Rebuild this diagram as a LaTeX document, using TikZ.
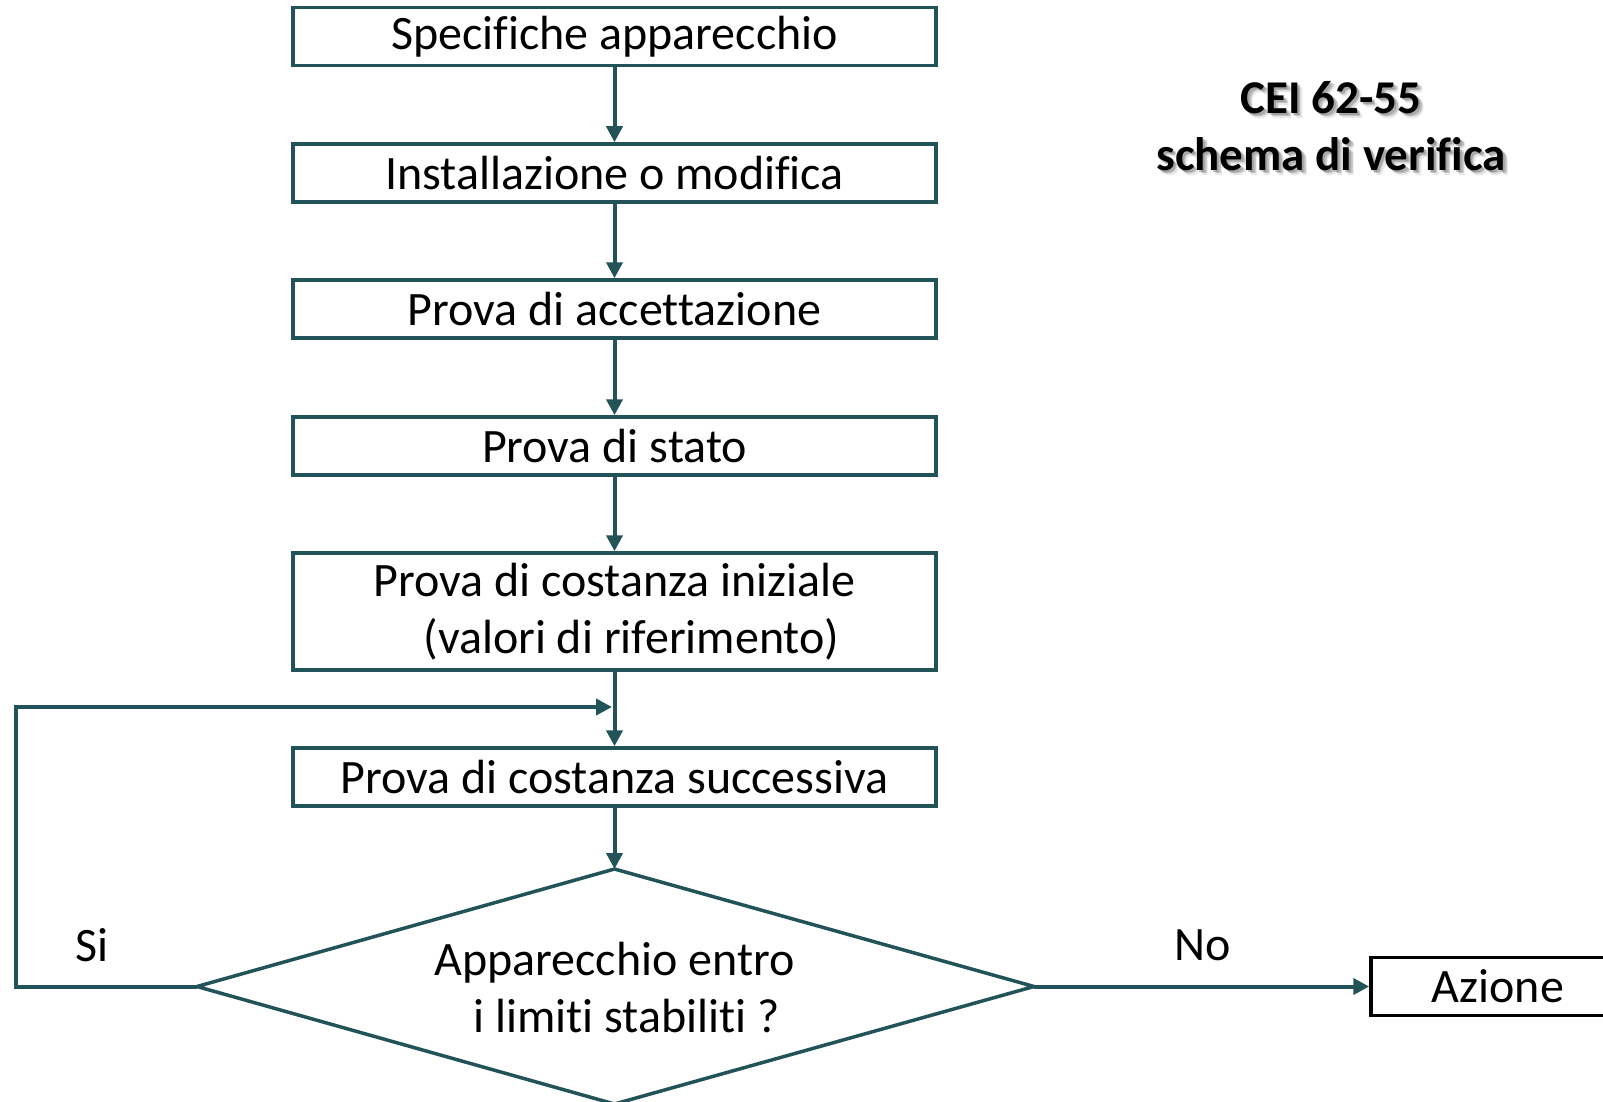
\documentclass[tikz,border=0pt]{standalone}
\usepackage{fontspec}
\setmainfont{Carlito}[Ligatures=CommonOff]
\usetikzlibrary{arrows.meta}
\definecolor{flow}{RGB}{33,83,89}
\begin{document}
\begin{tikzpicture}[x=1pt,y=-1pt,
  font=\fontsize{48}{57}\selectfont,
  stepbox/.style={draw=flow,line width=3.5pt,minimum width=643pt,minimum height=58pt,inner sep=0pt,align=center},
  link/.style={draw=flow,line width=4pt,-{Triangle[length=16pt,width=16pt]}},
  lbl/.style={inner sep=0pt}]
\useasboundingbox (0,0) rectangle (1603,1102);
% main column of steps
\node[stepbox] (s1) at (614.5,36.5) {Specifiche apparecchio};
\node[stepbox] (s2) at (614.5,173) {Installazione o modifica};
\node[stepbox] (s3) at (614.5,309) {Prova di accettazione};
\node[stepbox] (s4) at (614.5,446) {Prova di stato};
\node[stepbox,minimum height=117pt] (s5) at (614.5,611.5)
  {Prova di costanza iniziale\\\hspace*{34pt}(valori di riferimento)};
\node[stepbox] (s6) at (614.5,777) {Prova di costanza successiva};
% decision diamond
\coordinate (dT) at (614.5,869);
\coordinate (dR) at (1034,986.5);
\coordinate (dB) at (614.5,1104);
\coordinate (dL) at (197,986.5);
\draw[flow,line width=3.5pt,line join=miter] (dT) -- (dR) -- (dB) -- (dL) -- cycle;
\node[lbl,align=center] (q) at (614.5,988)
  {Apparecchio entro\\\hspace*{24pt}i limiti stabiliti ?};
% outcome box
\node[draw=black,line width=3.5pt,minimum width=254pt,minimum height=58pt,inner sep=0pt] (act) at (1498,986.5) {Azione};
% title with a soft drop shadow
\foreach \dx/\dy/\op in {2/2/0.35,3.5/3.5/0.3,5/5/0.15}{
  \node[lbl,align=center,font=\fontsize{47}{57}\selectfont\bfseries,text=black!60,opacity=\op] at (1331+\dx,126+\dy)
    {CEI 62-55\\schema di verifica};
}
\node[lbl,align=center,font=\fontsize{47}{57}\selectfont\bfseries] (title) at (1331,126)
  {CEI 62-55\\schema di verifica};
% connectors
\draw[link] (s1) -- (s2);
\draw[link] (s2) -- (s3);
\draw[link] (s3) -- (s4);
\draw[link] (s4) -- (s5);
\draw[link] (s5) -- (s6);
\draw[link] (s6) -- (dT);
\coordinate (loopA) at (16,986.5);
\coordinate (loopB) at (16,707);
\coordinate (loopC) at (612,707);
\draw[link,line join=miter] (dL) -- (loopA) -- (loopB) -- (loopC);
\draw[link] (dR) -- (act);
% branch labels
\node[lbl] (yes) at (92,945) {Si};
\node[lbl] (no) at (1203,945) {No};
\end{tikzpicture}
\end{document}
